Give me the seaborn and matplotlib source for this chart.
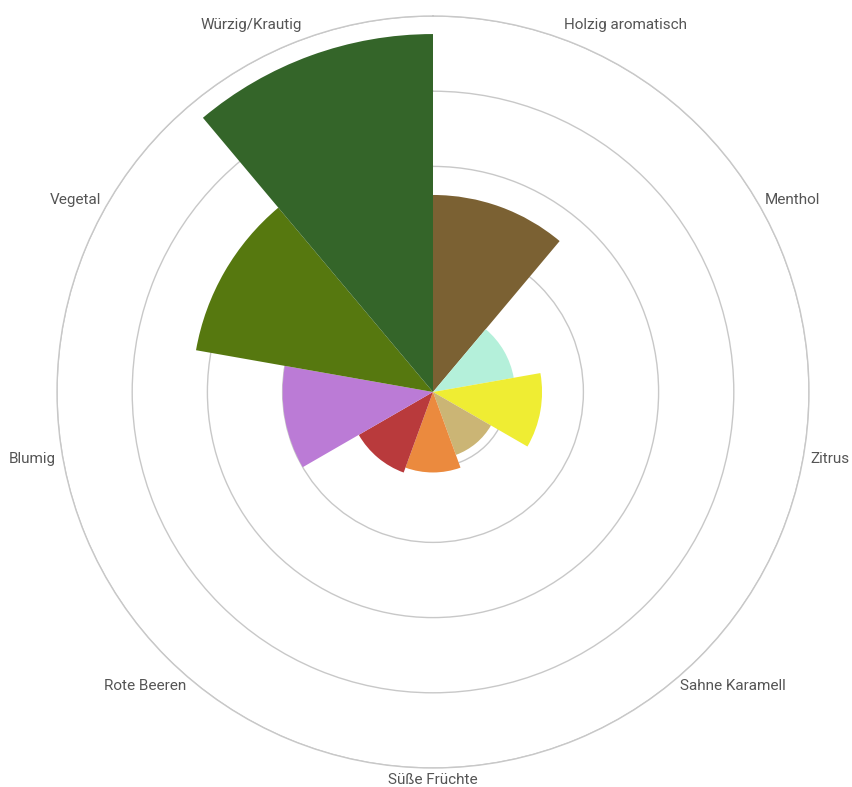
import numpy as np
import matplotlib
matplotlib.use("Agg")
import matplotlib.pyplot as plt
import seaborn as sns

categories = ["Holzig aromatisch", "Menthol", "Zitrus", "Sahne Karamell", "Süße Früchte",
              "Rote Beeren", "Blumig", "Vegetal", "Würzig/Krautig"]
values = [2.62, 1.09, 1.45, 0.89, 1.07, 1.14, 2.0, 3.2, 4.76]
colors = ["#7b6133", "#b4f0da", "#efed33", "#cbb575", "#eb8a3e",
          "#b93a3c", "#bb7bd6", "#56780f", "#346529"]
grid_values = [1, 2, 3, 4, 5]

sns.set_theme(style="white")
plt.rcParams["font.family"] = ["Roboto", "DejaVu Sans"]

fig = plt.figure(figsize=(8.52, 7.87), dpi=100)
ax = fig.add_axes([57 / 852, 19 / 787, 752 / 852, 752 / 787], projection="polar")
ax.set_theta_zero_location("N")
ax.set_theta_direction(-1)

n = len(categories)
width = 2 * np.pi / n
theta = np.arange(n) * width + width / 2

ax.set_axisbelow(True)
ax.bar(theta, values, width=width, align="center", color=colors, edgecolor="none", zorder=2)

ax.set_ylim(0, 5)
ax.set_yticks(grid_values)
ax.set_yticklabels([])
ax.set_xticks([])
ax.yaxis.grid(True, color="#c8c8c8", linewidth=1.0)
ax.xaxis.grid(False)
ax.spines["polar"].set_color("#c8c8c8")
ax.spines["polar"].set_linewidth(1.0)

for t, lab in zip(theta, categories):
    s = np.sin(t)
    c = np.cos(t)
    r = 5.1
    if s > 0.1:
        ha = "left"
    elif s < -0.1:
        ha = "right"
    else:
        ha = "center"
    if c > 0.9:
        va = "bottom"
    elif c < -0.9:
        va = "top"
        r = 5.06
    else:
        va = "center"
    ax.text(t, r, lab, ha=ha, va=va, fontsize=11, color="#555555", clip_on=False)

fig.savefig("out.png", dpi=100)
